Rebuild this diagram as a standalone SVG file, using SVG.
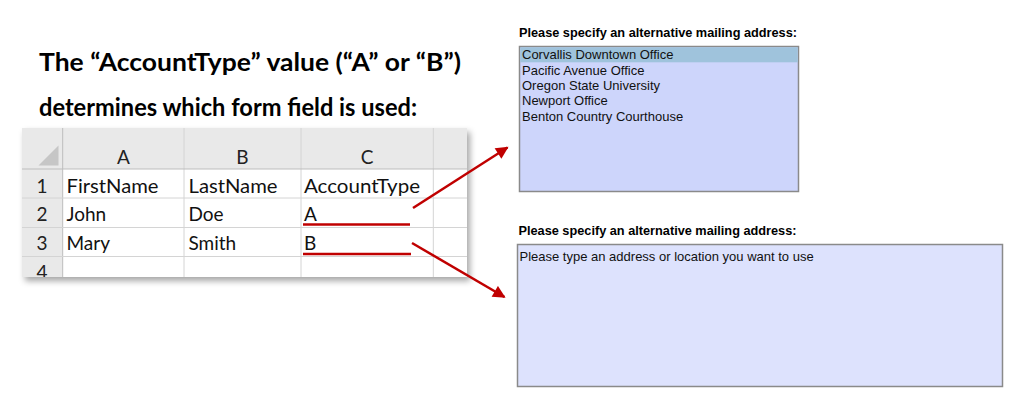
<svg xmlns="http://www.w3.org/2000/svg" width="1024" height="406" viewBox="0 0 1024 406">
<style>
.title{font-family:Lato,"Liberation Sans",Arial,sans-serif;font-weight:bold;font-size:25px;fill:#000}
.cell{font-family:Lato,"Liberation Sans",Arial,sans-serif;font-size:19px;fill:#111}
.hdr{font-family:Lato,"Liberation Sans",Arial,sans-serif;font-size:19px;fill:#222;text-anchor:middle}
.lbl{font-family:"Liberation Sans",Arial,sans-serif;font-weight:bold;font-size:12.5px;fill:#000}
.item{font-family:"Liberation Sans",Arial,sans-serif;font-size:13px;fill:#111}
.grid{stroke:#d4d4d4;stroke-width:1;fill:none}
.red{stroke:#c00000;stroke-width:2.5;fill:none}
</style>
<defs>
<filter id="shadow" x="-10%" y="-10%" width="130%" height="140%">
<feDropShadow dx="3" dy="4" stdDeviation="3" flood-color="#000" flood-opacity="0.35"/>
</filter>
<marker id="ah" viewBox="0 0 10 10" refX="9" refY="5" markerWidth="5.5" markerHeight="5" orient="auto" markerUnits="strokeWidth">
<path d="M0,0 L10,5 L0,10 z" fill="#c00000"/>
</marker>
</defs>
<rect width="1024" height="406" fill="#fff"/>

<g id="title">
<text class="title" x="39" y="71" textLength="422" lengthAdjust="spacingAndGlyphs">The “AccountType” value (“A” or “B”)</text>
<text class="title" x="39" y="116" textLength="378" lengthAdjust="spacingAndGlyphs">determines which form field is used:</text>
</g>

<g id="spreadsheet">
<rect x="22" y="128" width="445" height="149" fill="#fff" filter="url(#shadow)"/>
<rect x="22" y="128" width="445" height="41" fill="#e9e9e9"/>
<rect x="22" y="169" width="40.7" height="108" fill="#e9e9e9"/>
<polygon points="38.5,165.5 58.5,165.5 58.5,145.5" fill="#c6c6c6"/>
<g class="grid">
<line x1="62.7" y1="128" x2="62.7" y2="277" stroke="#bdbdbd"/>
<line x1="184" y1="128" x2="184" y2="277"/>
<line x1="301" y1="128" x2="301" y2="277"/>
<line x1="433.3" y1="128" x2="433.3" y2="277"/>
<line x1="22" y1="169" x2="467" y2="169" stroke="#bdbdbd"/>
<line x1="22" y1="198" x2="467" y2="198"/>
<line x1="22" y1="227.5" x2="467" y2="227.5"/>
<line x1="22" y1="256.5" x2="467" y2="256.5"/>
</g>
<text class="hdr" x="123.5" y="164">A</text>
<text class="hdr" x="242.5" y="164">B</text>
<text class="hdr" x="367" y="164">C</text>
<text class="hdr" x="42" y="192.5">1</text>
<text class="hdr" x="42" y="221">2</text>
<text class="hdr" x="42" y="250">3</text>
<clipPath id="r4"><rect x="22" y="257" width="445" height="20"/></clipPath>
<text class="hdr" x="42" y="279" clip-path="url(#r4)">4</text>
<text class="cell" x="66.5" y="192.5" textLength="92" lengthAdjust="spacingAndGlyphs">FirstName</text>
<text class="cell" x="188.5" y="192.5" textLength="89" lengthAdjust="spacingAndGlyphs">LastName</text>
<text class="cell" x="304" y="192.5" textLength="116" lengthAdjust="spacingAndGlyphs">AccountType</text>
<text class="cell" x="66.5" y="221">John</text>
<text class="cell" x="188.5" y="221">Doe</text>
<text class="cell" x="304" y="221">A</text>
<text class="cell" x="66.5" y="250">Mary</text>
<text class="cell" x="188.5" y="250">Smith</text>
<text class="cell" x="304" y="250">B</text>
</g>

<g id="listbox-form">
<text class="lbl" x="519" y="36.5" textLength="278" lengthAdjust="spacingAndGlyphs">Please specify an alternative mailing address:</text>
<rect x="519.5" y="46.5" width="279" height="145" fill="#cdd5fb" stroke="#8a8a8a" stroke-width="1.5"/>
<rect x="520.3" y="47.3" width="277.4" height="15" fill="#9fc3dc"/>
<text class="item" x="522" y="59.3">Corvallis Downtown Office</text>
<text class="item" x="522" y="74.6">Pacific Avenue Office</text>
<text class="item" x="522" y="89.9">Oregon State University</text>
<text class="item" x="522" y="105.2">Newport Office</text>
<text class="item" x="522" y="120.5">Benton Country Courthouse</text>
</g>

<g id="textarea-form">
<text class="lbl" x="518.5" y="235" textLength="278" lengthAdjust="spacingAndGlyphs">Please specify an alternative mailing address:</text>
<rect x="517.5" y="244.5" width="485" height="142" fill="#dde2fd" stroke="#8a8a8a" stroke-width="1.5"/>
<text class="item" x="519.5" y="260.7">Please type an address or location you want to use</text>
</g>

<g id="connectors">
<line class="red" x1="303" y1="224.5" x2="410" y2="224.5"/>
<line class="red" x1="303" y1="254" x2="411" y2="254"/>
<line class="red" x1="413" y1="208" x2="507.5" y2="147.5" marker-end="url(#ah)"/>
<line class="red" x1="412" y1="243" x2="504.5" y2="297" marker-end="url(#ah)"/>
</g>
</svg>
